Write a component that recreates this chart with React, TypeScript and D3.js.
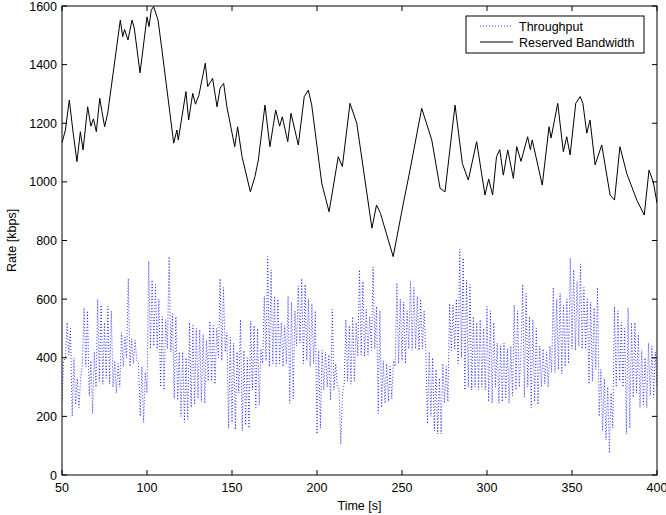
import * as d3 from "d3";
import React from "react";

// reserved bandwidth: vertices (time s, rate kbps)
const bwTime = [
  50, 52, 54.3, 56.5, 58.8, 60.8, 62.4, 65.1, 67, 68.5, 70.2, 72.2, 73.5, 75.1, 76.9,
  84.3, 85.7, 86.8, 88.8, 91.2, 92.5, 95.9, 100, 101.2, 102.5, 103.9, 106.5, 108.8,
  115.7, 117.6, 118.4, 122.9, 124.5, 126.9, 128.5, 130.5, 134.3, 135.7, 138.6, 141.2,
  143, 145.1, 147, 151.6, 153.3, 155.9, 160.8, 163.5, 165.5, 169.4, 172.3, 175.7,
  178, 179.6, 182.8, 184.7, 189, 192.5, 194.9, 196.9, 202.8, 207.1, 212.5, 214.9,
  219.4, 223.4, 232.3, 235, 237.3, 244.8, 250.6, 254.7, 261.6, 267.5, 272.4, 275.3,
  281.2, 285.5, 289, 293.9, 298.8, 301, 303.3, 305.6, 307.5, 309.6, 312.2, 315.5,
  317.5, 320, 323.9, 325.5, 326.6, 332.5, 336.5, 337.7, 341.6, 344.9, 346.9, 348.9,
  352.2, 354.8, 356.4, 358.7, 360.6, 363.6, 367.5, 372.4, 375, 378.2, 382.2, 388.1,
  392.5, 395.3, 397.8, 400,
];
const bwRate = [
  1133, 1177, 1279, 1170, 1069, 1171, 1109, 1256, 1190, 1215, 1171, 1285, 1240, 1188,
  1235, 1552, 1495, 1520, 1484, 1552, 1525, 1372, 1563, 1530, 1586, 1598, 1552, 1450,
  1132, 1177, 1143, 1308, 1211, 1302, 1265, 1295, 1405, 1325, 1353, 1256, 1320, 1336,
  1256, 1120, 1188, 1086, 966, 1018, 1075, 1262, 1120, 1245, 1190, 1222, 1137, 1234,
  1126, 1291, 1313, 1262, 995, 898, 1086, 1052, 1268, 1200, 842, 921, 893, 745, 921,
  1040, 1251, 1143, 978, 966, 1262, 1063, 1006, 1137, 955, 1010, 955, 1086, 1110,
  1023, 1109, 1012, 1120, 1070, 1154, 1110, 1143, 989, 1188, 1150, 1268, 1103, 1154,
  1092, 1268, 1291, 1268, 1166, 1211, 1058, 1126, 955, 938, 1120, 1029, 938, 887,
  1040, 1000, 928,
];

// throughput: one sample per second from 50 s to 400 s
const tpStart = 50;
const tpRate = [
  250, 390, 400, 520, 410, 500, 200, 400, 240, 330,
  230, 335, 380, 570, 370, 560, 270, 390, 210, 420,
  300, 600, 320, 580, 310, 520, 330, 575, 310, 560,
  300, 390, 280, 380, 300, 485, 370, 470, 400, 670,
  370, 465, 380, 460, 390, 380, 200, 370, 180, 350,
  280, 730, 430, 665, 440, 650, 430, 600, 300, 540,
  290, 530, 430, 745, 420, 550, 260, 540, 255, 420,
  200, 420, 180, 400, 190, 520, 230, 510, 240, 500,
  260, 495, 250, 480, 245, 460, 320, 525, 320, 510,
  310, 500, 400, 670, 390, 640, 420, 485, 160, 470,
  180, 450, 155, 420, 280, 530, 150, 425, 170, 400,
  160, 525, 290, 510, 230, 500, 240, 430, 380, 610,
  390, 745, 370, 700, 380, 610, 370, 600, 380, 520,
  370, 510, 380, 610, 245, 590, 260, 560, 440, 645,
  450, 670, 380, 650, 390, 600, 370, 585, 380, 560,
  140, 425, 160, 425, 290, 420, 300, 410, 255, 565,
  290, 380, 300, 290, 105, 280, 310, 530, 320, 510,
  310, 540, 320, 520, 405, 700, 410, 660, 405, 565,
  410, 540, 425, 710, 430, 575, 210, 560, 230, 390,
  245, 380, 250, 370, 260, 390, 370, 655, 380, 600,
  390, 590, 380, 560, 430, 660, 425, 640, 430, 610,
  425, 600, 430, 560, 425, 175, 420, 200, 400, 150,
  360, 140, 330, 140, 380, 245, 370, 250, 585, 425,
  580, 430, 600, 380, 770, 400, 740, 290, 665, 300,
  650, 290, 540, 300, 520, 290, 530, 300, 500, 290,
  575, 250, 560, 245, 520, 300, 450, 245, 440, 250,
  450, 260, 430, 245, 440, 270, 580, 290, 560, 300,
  420, 650, 265, 620, 300, 540, 230, 530, 250, 500,
  240, 440, 300, 430, 310, 420, 300, 440, 350, 640,
  350, 600, 360, 620, 345, 580, 370, 600, 380, 740,
  430, 700, 425, 660, 440, 720, 430, 640, 430, 600,
  310, 590, 320, 570, 360, 640, 200, 360, 150, 330,
  120, 300, 75, 280, 160, 575, 300, 560, 320, 520,
  300, 500, 140, 570, 160, 520, 265, 520, 280, 480,
  230, 425, 240, 400, 230, 450, 270, 440, 265, 420,
  300,
];

const xTicks = [50, 100, 150, 200, 250, 300, 350, 400];
const yTicks = [0, 200, 400, 600, 800, 1000, 1200, 1400, 1600];
const seriesNames = ["Throughput", "Reserved Bandwidth"];

const W = 666;
const H = 515;
const m = { left: 62, right: 9, top: 6, bottom: 40 };
const font = "Liberation Sans, Arial, Helvetica, sans-serif";

const App = () => {
  const x = d3.scaleLinear().domain([50, 400]).range([m.left, W - m.right]);
  const y = d3.scaleLinear().domain([0, 1600]).range([H - m.bottom, m.top]);
  const [x0, x1] = x.range();
  const [y0, y1] = y.range();

  const line = d3
    .line<[number, number]>()
    .x((d) => x(d[0]))
    .y((d) => y(d[1]));

  const bw = bwTime.map((t, i) => [t, bwRate[i]] as [number, number]);
  const tp = tpRate.map((v, i) => [tpStart + i, v] as [number, number]);

  const tickLen = 5;

  return (
    <svg
      width={W}
      height={H}
      style={{ position: "absolute", left: 0, top: 0, background: "#fff" }}
      fontFamily={font}
    >
      <defs>
        <clipPath id="plot">
          <rect x={x0} y={y1} width={x1 - x0} height={y0 - y1} />
        </clipPath>
      </defs>

      <g clipPath="url(#plot)">
        <path
          d={line(tp) ?? ""}
          fill="none"
          stroke="#0000ff"
          strokeWidth={0.8}
          strokeDasharray="1,2"
        />
        <path d={line(bw) ?? ""} fill="none" stroke="#000" strokeWidth={1} />
      </g>

      {/* box + inward ticks on all sides */}
      <rect x={x0} y={y1} width={x1 - x0} height={y0 - y1} fill="none" stroke="#000" strokeWidth={1} />
      {xTicks.map((t) => (
        <g key={"x" + t}>
          <line x1={x(t)} x2={x(t)} y1={y0} y2={y0 - tickLen} stroke="#000" />
          <line x1={x(t)} x2={x(t)} y1={y1} y2={y1 + tickLen} stroke="#000" />
          <text x={x(t)} y={y0 + 17} textAnchor="middle" fontSize={12.5} fill="#000">
            {t}
          </text>
        </g>
      ))}
      {yTicks.map((t) => (
        <g key={"y" + t}>
          <line x1={x0} x2={x0 + tickLen} y1={y(t)} y2={y(t)} stroke="#000" />
          <line x1={x1} x2={x1 - tickLen} y1={y(t)} y2={y(t)} stroke="#000" />
          <text x={x0 - 5} y={y(t) + 4.5} textAnchor="end" fontSize={12.5} fill="#000">
            {t}
          </text>
        </g>
      ))}

      <text x={(x0 + x1) / 2} y={H - 5} textAnchor="middle" fontSize={12.5} fill="#000">
        Time [s]
      </text>
      <text
        transform={`translate(16, ${(y0 + y1) / 2}) rotate(-90)`}
        textAnchor="middle"
        fontSize={12.5}
        fill="#000"
      >
        Rate [kbps]
      </text>

      {/* legend */}
      <g transform="translate(466, 16)">
        <rect width={178} height={37} fill="#fff" stroke="#000" strokeWidth={1} />
        <line x1={14} x2={47} y1={10} y2={10} stroke="#0000ff" strokeWidth={0.8} strokeDasharray="1,2" />
        <text x={53} y={14.5} fontSize={12.5} fill="#000">
          {seriesNames[0]}
        </text>
        <line x1={14} x2={47} y1={26} y2={26} stroke="#000" strokeWidth={1} />
        <text x={53} y={30.5} fontSize={12.5} fill="#000">
          {seriesNames[1]}
        </text>
      </g>
    </svg>
  );
};

export default App;
